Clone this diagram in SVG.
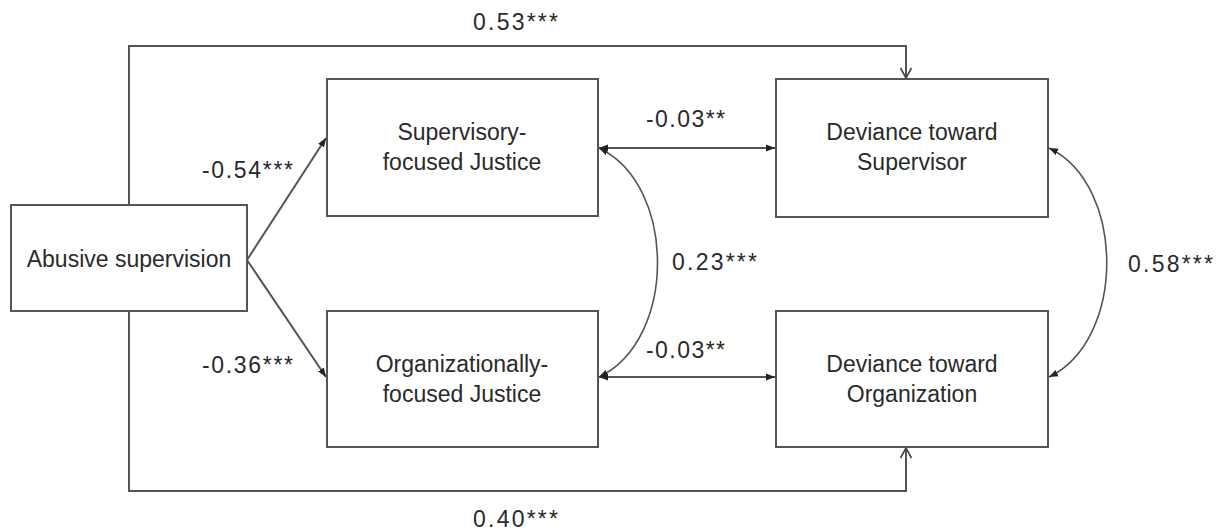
<svg xmlns="http://www.w3.org/2000/svg" width="1217" height="531" viewBox="0 0 1217 531">
<style>
.box{fill:#fff;stroke:#555;stroke-width:2}
.node{font-family:"Liberation Sans",Arial,sans-serif;font-size:23px;fill:#2a2a2a;text-anchor:middle}
.lbl{font-family:"Liberation Sans",Arial,sans-serif;font-size:23px;fill:#2a2a2a}
.ln{fill:none;stroke:#555;stroke-width:2}
.cv{fill:none;stroke:#555;stroke-width:1.6}
</style>
<defs>
<marker id="fa" markerUnits="userSpaceOnUse" markerWidth="12" markerHeight="10" refX="9" refY="5" orient="auto-start-reverse" viewBox="0 0 12 10">
<path d="M0,1.5 L9,5 L0,8.5 Z" fill="#222"/>
</marker>
<marker id="oa" markerUnits="userSpaceOnUse" markerWidth="14" markerHeight="14" refX="12" refY="7" orient="auto" viewBox="0 0 14 14">
<path d="M2,1.5 L12,7 L2,12.5" fill="none" stroke="#444" stroke-width="1.6"/>
</marker>
</defs>
<rect width="1217" height="531" fill="#fff"/>
<g id="connectors">
<path class="ln" d="M129,205 V46 H906 V78" marker-end="url(#oa)"/>
<path class="ln" d="M129,311 V491 H906 V448" marker-end="url(#oa)"/>
<line class="ln" x1="247" y1="260" x2="326" y2="138" marker-end="url(#fa)"/>
<line class="ln" x1="247" y1="260" x2="326" y2="377" marker-end="url(#fa)"/>
<line class="ln" x1="599" y1="148" x2="775" y2="148" marker-start="url(#fa)" marker-end="url(#fa)"/>
<line class="ln" x1="599" y1="377" x2="775" y2="377" marker-start="url(#fa)" marker-end="url(#fa)"/>
<path class="cv" d="M599,148 C677,185 677,340 599,377" marker-start="url(#fa)" marker-end="url(#fa)"/>
<path class="cv" d="M1049,148 C1126,185 1126,340 1049,377" marker-start="url(#fa)" marker-end="url(#fa)"/>
<text class="lbl" x="473" y="30" textLength="85">0.53***</text>
<text class="lbl" x="473" y="527" textLength="85">0.40***</text>
<text class="lbl" x="202" y="178" textLength="91">-0.54***</text>
<text class="lbl" x="202" y="373" textLength="91">-0.36***</text>
<text class="lbl" x="646" y="127" textLength="79">-0.03**</text>
<text class="lbl" x="646" y="358" textLength="79">-0.03**</text>
<text class="lbl" x="672" y="270" textLength="85">0.23***</text>
<text class="lbl" x="1128" y="272" textLength="85">0.58***</text>
</g>
<g id="abusive">
<rect class="box" x="11" y="205" width="236" height="106"/>
<text class="node" x="129" y="267">Abusive supervision</text>
</g>
<g id="sup-justice">
<rect class="box" x="327" y="79" width="271" height="137"/>
<text class="node" x="462" y="140">Supervisory-</text>
<text class="node" x="462" y="170">focused Justice</text>
</g>
<g id="org-justice">
<rect class="box" x="327" y="311" width="271" height="136"/>
<text class="node" x="462" y="372">Organizationally-</text>
<text class="node" x="462" y="402">focused Justice</text>
</g>
<g id="dev-sup">
<rect class="box" x="776" y="79" width="272" height="138"/>
<text class="node" x="912" y="140">Deviance toward</text>
<text class="node" x="912" y="170">Supervisor</text>
</g>
<g id="dev-org">
<rect class="box" x="776" y="311" width="272" height="136"/>
<text class="node" x="912" y="372">Deviance toward</text>
<text class="node" x="912" y="402">Organization</text>
</g>
</svg>
